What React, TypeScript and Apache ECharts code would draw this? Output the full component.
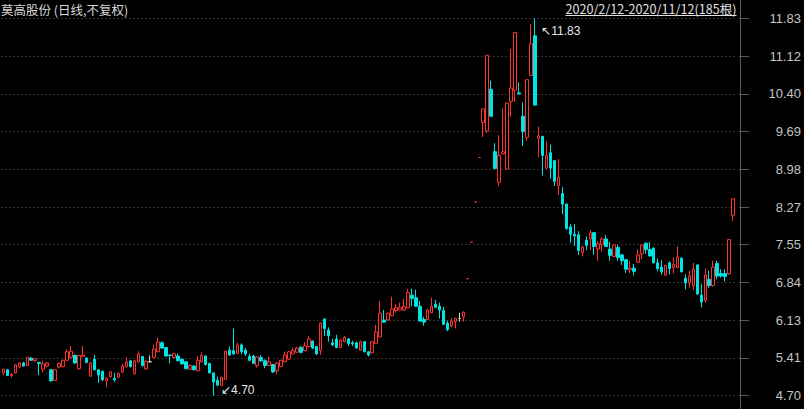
import React, { useEffect, useRef } from "react";
import * as echarts from "echarts";

const titleText = "莫高股份 (日线,不复权)";
const rangeText = "2020/2/12-2020/11/12(185根)";
const yTickLabels = ["4.70", "5.41", "6.13", "6.84", "7.55", "8.27", "8.98", "9.69", "10.40", "11.12", "11.83"];
const yMin = 4.7;
const yMax = 11.83;

const opens = [
  5.13, 5.19, 5.08, 5.13, 5.24, 5.32, 5.27, 5.41, 5.36, 5.33,
  5.20, 5.26, 5.19, 4.99, 5.24, 5.25, 5.37, 5.42, 5.46, 5.21,
  5.44, 5.41, 5.07, 5.39, 5.19, 5.16, 4.98, 5.06, 5.03, 5.05,
  5.15, 5.25, 5.36, 5.12, 5.34, 5.44, 5.21, 5.34, 5.42, 5.53,
  5.70, 5.61, 5.47, 5.42, 5.45, 5.39, 5.34, 5.20, 5.26, 5.17,
  5.34, 5.45, 5.31, 5.13, 4.99, 4.89, 5.01, 5.56, 5.55, 5.50,
  5.66, 5.56, 5.44, 5.45, 5.27, 5.42, 5.36, 5.27, 5.29, 5.17,
  5.25, 5.34, 5.39, 5.49, 5.52, 5.61, 5.55, 5.63, 5.73, 5.63,
  5.55, 6.15, 5.94, 5.70, 5.77, 5.61, 5.72, 5.77, 5.70, 5.70,
  5.56, 5.72, 5.53, 5.51, 5.69, 5.81, 6.13, 6.13, 6.21, 6.31,
  6.32, 6.32, 6.36, 6.60, 6.55, 6.39, 6.14, 6.14, 6.27, 6.43,
  6.39, 6.31, 6.07, 6.02, 6.10, 6.16, 6.19, 6.91, 7.60, 8.36,
  9.20, 9.86, 9.70, 10.49, 9.31, 8.73, 9.27, 8.98, 10.26, 10.47,
  10.42, 9.98, 9.58, 10.75, 11.50, 9.56, 9.60, 9.00, 9.29, 9.14,
  8.67, 8.52, 8.32, 7.89, 7.75, 7.74, 7.40, 7.64, 7.66, 7.78,
  7.47, 7.55, 7.66, 7.47, 7.33, 7.50, 7.36, 7.27, 7.08, 7.11,
  7.22, 7.38, 7.58, 7.46, 7.49, 7.21, 7.13, 6.98, 7.21, 7.12,
  7.12, 7.30, 6.92, 6.83, 6.78, 7.17, 6.60, 6.50, 6.90, 6.78,
  7.20, 7.01, 7.01, 7.00, 8.11,
];
const closes = [
  5.20, 5.08, 5.10, 5.28, 5.32, 5.26, 5.42, 5.37, 5.40, 5.31,
  5.30, 5.32, 4.98, 5.19, 5.31, 5.37, 5.53, 5.54, 5.32, 5.46,
  5.47, 5.33, 5.32, 5.19, 5.09, 5.00, 5.03, 5.15, 5.00, 5.12,
  5.26, 5.34, 5.25, 5.36, 5.49, 5.27, 5.35, 5.34, 5.58, 5.71,
  5.60, 5.45, 5.46, 5.49, 5.36, 5.30, 5.21, 5.27, 5.19, 5.37,
  5.46, 5.29, 5.13, 4.96, 4.90, 5.05, 5.54, 5.47, 5.49, 5.66,
  5.53, 5.49, 5.37, 5.31, 5.43, 5.36, 5.27, 5.34, 5.15, 5.32,
  5.37, 5.47, 5.53, 5.55, 5.60, 5.52, 5.64, 5.77, 5.60, 5.49,
  6.07, 5.97, 5.83, 5.66, 5.61, 5.75, 5.80, 5.68, 5.68, 5.60,
  5.72, 5.53, 5.47, 5.72, 5.90, 6.26, 6.09, 6.26, 6.34, 6.36,
  6.37, 6.38, 6.65, 6.54, 6.39, 6.11, 6.09, 6.32, 6.39, 6.37,
  6.32, 6.05, 5.95, 6.11, 6.16, 6.16, 6.28, 6.91, 7.60, 8.36,
  9.20, 10.12, 11.13, 9.98, 8.99, 9.24, 9.31, 10.23, 10.51, 11.56,
  10.40, 9.69, 10.67, 11.35, 10.19, 9.61, 9.24, 9.24, 9.00, 8.75,
  8.83, 8.32, 7.86, 7.75, 7.72, 7.44, 7.51, 7.54, 7.78, 7.52,
  7.57, 7.66, 7.52, 7.35, 7.55, 7.31, 7.25, 7.09, 7.11, 7.05,
  7.36, 7.55, 7.46, 7.34, 7.21, 7.10, 7.04, 7.16, 7.10, 7.18,
  7.32, 7.04, 6.83, 6.96, 7.09, 6.62, 6.47, 6.98, 6.78, 7.13,
  6.96, 6.96, 6.95, 7.65, 8.42,
];
const lows = [
  5.09, 5.07, 5.04, 5.12, 5.22, 5.25, 5.26, 5.36, 5.34, 5.09,
  5.14, 5.25, 4.97, 4.98, 5.22, 5.24, 5.36, 5.41, 5.30, 5.19,
  5.43, 5.31, 5.06, 5.18, 4.94, 4.98, 4.86, 5.04, 4.96, 5.03,
  5.13, 5.23, 5.23, 5.10, 5.33, 5.25, 5.19, 5.33, 5.41, 5.52,
  5.59, 5.44, 5.31, 5.41, 5.35, 5.29, 5.20, 5.19, 5.18, 5.16,
  5.33, 5.27, 5.12, 4.70, 4.88, 4.88, 5.00, 5.45, 5.47, 5.49,
  5.48, 5.45, 5.35, 5.30, 5.23, 5.34, 5.22, 5.26, 5.13, 5.11,
  5.24, 5.33, 5.37, 5.48, 5.51, 5.50, 5.54, 5.61, 5.58, 5.47,
  5.47, 5.83, 5.72, 5.64, 5.60, 5.60, 5.71, 5.64, 5.64, 5.59,
  5.55, 5.52, 5.44, 5.50, 5.68, 5.80, 6.08, 6.12, 6.20, 6.27,
  6.31, 6.31, 6.35, 6.39, 6.38, 6.10, 6.02, 6.13, 6.26, 6.36,
  6.16, 6.04, 5.92, 5.99, 5.97, 6.10, 6.10, 6.91, 7.60, 8.36,
  9.20, 9.59, 9.66, 9.97, 8.98, 8.66, 9.26, 8.97, 9.97, 10.25,
  10.40, 9.42, 9.52, 10.74, 10.18, 9.20, 8.86, 8.98, 8.80, 8.66,
  8.49, 8.13, 7.83, 7.59, 7.53, 7.36, 7.33, 7.45, 7.45, 7.36,
  7.25, 7.42, 7.51, 7.25, 7.32, 7.25, 7.17, 7.02, 7.02, 6.97,
  7.21, 7.28, 7.38, 7.33, 7.20, 7.05, 6.99, 6.97, 6.99, 7.01,
  7.11, 7.03, 6.71, 6.74, 6.70, 6.61, 6.37, 6.46, 6.73, 6.76,
  6.90, 6.93, 6.86, 6.99, 8.00,
];
const highs = [
  5.21, 5.20, 5.13, 5.29, 5.33, 5.34, 5.43, 5.43, 5.41, 5.34,
  5.36, 5.34, 5.20, 5.20, 5.33, 5.38, 5.58, 5.64, 5.48, 5.47,
  5.64, 5.43, 5.34, 5.47, 5.20, 5.18, 5.05, 5.16, 5.13, 5.14,
  5.30, 5.42, 5.37, 5.37, 5.54, 5.45, 5.37, 5.46, 5.66, 5.80,
  5.73, 5.62, 5.47, 5.51, 5.50, 5.40, 5.35, 5.29, 5.27, 5.45,
  5.52, 5.46, 5.32, 5.14, 5.06, 5.06, 5.55, 5.63, 5.97, 5.70,
  5.69, 5.60, 5.49, 5.47, 5.44, 5.47, 5.39, 5.44, 5.30, 5.33,
  5.38, 5.53, 5.54, 5.61, 5.62, 5.64, 5.71, 5.83, 5.75, 5.64,
  6.08, 6.16, 5.99, 5.77, 5.85, 5.76, 5.83, 5.79, 5.74, 5.72,
  5.74, 5.73, 5.54, 5.73, 6.04, 6.49, 6.32, 6.27, 6.57, 6.43,
  6.46, 6.53, 6.72, 6.72, 6.70, 6.49, 6.19, 6.33, 6.55, 6.51,
  6.46, 6.38, 6.12, 6.17, 6.17, 6.27, 6.29, 6.91, 7.60, 8.36,
  9.20, 10.12, 11.13, 10.65, 9.47, 9.62, 10.13, 10.24, 11.25, 11.57,
  10.62, 10.24, 10.68, 11.72, 11.83, 9.78, 9.61, 9.50, 9.44, 9.15,
  9.17, 8.64, 8.33, 7.94, 7.94, 7.81, 7.53, 7.71, 7.83, 7.79,
  7.62, 7.70, 7.74, 7.61, 7.56, 7.55, 7.38, 7.28, 7.25, 7.19,
  7.47, 7.56, 7.59, 7.61, 7.50, 7.29, 7.26, 7.17, 7.24, 7.31,
  7.52, 7.31, 6.99, 7.06, 7.21, 7.18, 6.81, 7.10, 7.06, 7.25,
  7.25, 7.09, 7.09, 7.65, 8.42,
];
const categories = opens.map((_, i) => String(i + 1));

const UP = "#ff3232";
const DOWN = "#00e4e4";
const DOJI = "#d2d2d2";
const GRID = "#5f5f5f";
const AXIS = "#5a5a5a";

export default function App() {
  const ref = useRef<HTMLDivElement>(null);
  useEffect(() => {
    if (!ref.current) return;
    const chart = echarts.init(ref.current, undefined, { renderer: "svg" });
    const data = opens.map((o, i) => {
      const c = closes[i];
      const l = lows[i];
      const h = highs[i];
      const item: any = { value: [o, c, l, h] };
      if (o === c) {
        const col = h === l ? UP : DOJI;
        item.itemStyle = {
          color: col,
          color0: col,
          borderColor: col,
          borderColor0: col,
          borderColorDoji: col,
        };
      }
      return item;
    });
    chart.setOption({
      animation: false,
      backgroundColor: "#000000",
      grid: { left: 1.5, right: 67.7, top: 18.3, bottom: 13.3 },
      xAxis: {
        type: "category",
        data: categories,
        boundaryGap: true,
        show: false,
      },
      yAxis: [
        { type: "value", min: yMin, max: yMax, show: false },
        {
          type: "category",
          data: yTickLabels,
          boundaryGap: false,
          position: "right",
          offset: 4,
          axisLine: { show: false },
          axisTick: { show: true, length: 10, interval: 0, lineStyle: { color: AXIS } },
          axisLabel: {
            interval: 0,
            color: "#c4c4c4",
            fontSize: 13,
            align: "right",
            margin: 62,
            fontFamily: "Liberation Sans",
          },
          splitLine: { show: true, interval: 0, lineStyle: { color: GRID, type: [1, 3], width: 1 } },
        },
      ],
      series: [
        {
          type: "candlestick",
          data,
          yAxisIndex: 0,
          barWidth: 3,
          itemStyle: {
            color: "#000000",
            color0: DOWN,
            borderColor: UP,
            borderColor0: DOWN,
            borderColorDoji: DOJI,
            borderWidth: 1,
          },
          markPoint: {
            symbol: "circle",
            symbolSize: 1,
            itemStyle: { color: "rgba(0,0,0,0)" },
            label: { show: true, color: "#e6e6e6", fontSize: 12, fontFamily: "Liberation Sans", position: "right", distance: 5 },
            data: [
              {
                type: "max",
                valueDim: "highest",
                label: { formatter: (p: any) => "↖" + Number(p.value).toFixed(2), offset: [1, 13] },
              },
              {
                type: "min",
                valueDim: "lowest",
                label: { formatter: (p: any) => "↙" + Number(p.value).toFixed(2), offset: [2, -6] },
              },
            ],
          },
        },
      ],
      graphic: [
        {
          type: "line",
          shape: { x1: 740.5, y1: 0, x2: 740.5, y2: 409 },
          style: { stroke: AXIS, lineWidth: 1 },
          silent: true,
        },
        {
          type: "text",
          x: 1,
          y: 9,
          style: {
            text: titleText,
            fill: "#d8d8d8",
            font: '12.5px "Noto Sans CJK SC"',
            textVerticalAlign: "middle",
          },
        },
        {
          type: "text",
          x: 736.5,
          y: 8,
          style: {
            text: rangeText,
            fill: "#e0e0e0",
            font: '12.6px "Noto Sans CJK SC"',
            textAlign: "right",
            textVerticalAlign: "middle",
          },
        },
        {
          type: "line",
          shape: { x1: 565.5, y1: 15.5, x2: 736.5, y2: 15.5 },
          style: { stroke: "#e0e0e0", lineWidth: 1 },
          silent: true,
        },
      ],
    });
    return () => chart.dispose();
  }, []);
  return <div ref={ref} style={{ width: 804, height: 409, position: "absolute", left: 0, top: 0 }} />;
}
